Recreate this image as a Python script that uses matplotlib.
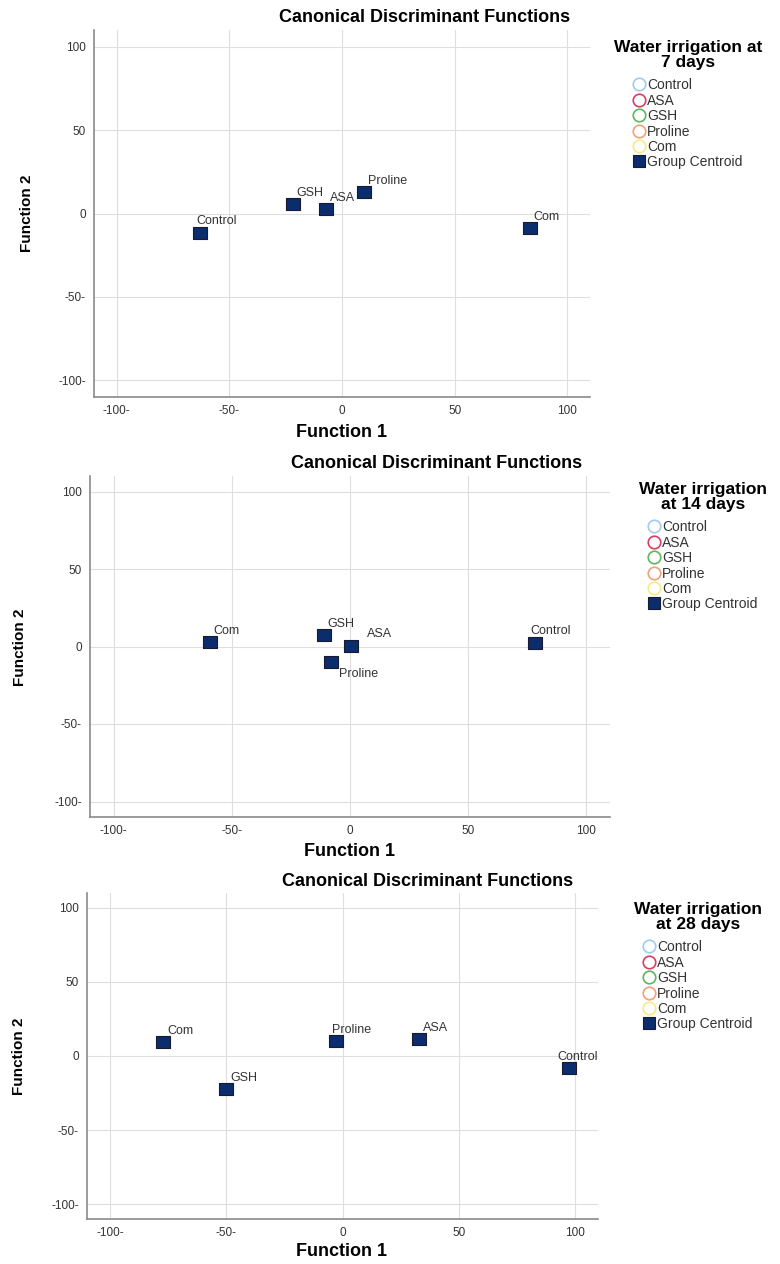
import matplotlib
matplotlib.use('Agg')
import matplotlib.pyplot as plt
from matplotlib.lines import Line2D

plt.rcParams['font.family'] = ['Liberation Sans', 'DejaVu Sans']

# data
groups = ['Control', 'ASA', 'GSH', 'Proline', 'Com']
group_colors = ['#9fcbee', '#dc3c64', '#5cb85c', '#f4a07a', '#f5ec80']

day7_f1 = [-63.0, -7.3, -21.8, 9.6, 83.3]
day7_f2 = [-11.5, 2.8, 5.6, 12.8, -8.7]

day14_f1 = [78.4, 0.4, -11.1, -8.1, -59.4]
day14_f2 = [2.2, 0.6, 7.1, -10.0, 3.0]

day28_f1 = [97.6, 33.0, -50.1, -3.0, -77.3]
day28_f2 = [-7.9, 11.6, -22.4, 10.2, 9.3]

ticks = [-100, -50, 0, 50, 100]
x_ticklabels = ['-100-', '-50-', '0', '50', '100']
y_ticklabels = ['-100-', '-50-', '0', '50', '100']
legend_titles = ['Water irrigation at\n7 days', 'Water irrigation\nat 14 days',
                 'Water irrigation\nat 28 days']

W, H = 780, 1264
centroid_color = '#0b2d6e'
rect = [(-1.25, -1), (1.25, -1), (1.25, 1), (-1.25, 1), (-1.25, -1)]

# layout of each panel in pixels: (left, right, top, bottom), title centre, legend anchor,
# label offsets (px) per group
panels = [
    dict(box=(94, 590, 30, 397), title=(425, 17), xlab=(342, 433), ylab=(27, 213),
         leg=(688, 40), off={'Control': (-4, 12)}),
    dict(box=(90, 610, 476, 817), title=(437, 464), xlab=(350, 851), ylab=(20, 647),
         leg=(703, 482), off={'ASA': (16, 12), 'Proline': (8, -12), 'Control': (-5, 12)}),
    dict(box=(87, 598, 893, 1219), title=(428, 882), xlab=(342, 1252), ylab=(19, 1056),
         leg=(698, 902), off={'Proline': (-4, 11), 'Control': (-12, 11)}),
]
data = [(day7_f1, day7_f2), (day14_f1, day14_f2), (day28_f1, day28_f2)]

fig = plt.figure(figsize=(W / 100, H / 100), dpi=100)

for p, (f1, f2), lt in zip(panels, data, legend_titles):
    l, r, t, b = p['box']
    ax = fig.add_axes([l / W, 1 - b / H, (r - l) / W, (b - t) / H])
    ax.set_xlim(-110, 110)
    ax.set_ylim(-110, 110)
    ax.set_xticks(ticks)
    ax.set_yticks(ticks)
    ax.set_xticklabels(x_ticklabels)
    ax.set_yticklabels(y_ticklabels)
    ax.tick_params(length=0, labelsize=8.5, colors='#333333', pad=6)
    ax.grid(True, color='#dedede', lw=0.8)
    ax.set_axisbelow(True)
    for s in ['top', 'right']:
        ax.spines[s].set_visible(False)
    for s in ['left', 'bottom']:
        ax.spines[s].set_color('#8a8a8a')
        ax.spines[s].set_linewidth(1.2)

    ax.plot(f1, f2, ls='none', marker=rect, ms=10, mfc=centroid_color,
            mec='#1a1a2e', mew=0.8, zorder=3)
    for g, x, y in zip(groups, f1, f2):
        dx, dy = p['off'].get(g, (4, 11))
        ax.annotate(g, (x, y), xytext=(dx * 0.72, dy * 0.72), textcoords='offset points',
                    ha='left', va='center', fontsize=9, color='#333333')

    fig.text(p['title'][0] / W, 1 - p['title'][1] / H, 'Canonical Discriminant Functions',
             ha='center', va='center', fontsize=13, fontweight='bold')
    fig.text(p['xlab'][0] / W, 1 - p['xlab'][1] / H, 'Function 1',
             ha='center', va='center', fontsize=13, fontweight='bold')
    fig.text(p['ylab'][0] / W, 1 - p['ylab'][1] / H, 'Function 2', rotation=90,
             ha='center', va='center', fontsize=11, fontweight='bold')

    handles = [Line2D([], [], ls='none', marker='o', ms=9, mfc='none', mec=c, mew=1.2)
               for c in group_colors]
    handles.append(Line2D([], [], ls='none', marker='s', ms=9, mfc=centroid_color,
                          mec='#1a1a2e', mew=0.8))
    leg = ax.legend(handles, groups + ['Group Centroid'], title=lt,
                    loc='upper center', bbox_to_anchor=(p['leg'][0] / W, 1 - p['leg'][1] / H),
                    bbox_transform=fig.transFigure, frameon=False, fontsize=10,
                    handlelength=0.8, handletextpad=0.2, labelspacing=0.1,
                    borderpad=0, borderaxespad=0)
    leg.get_title().set_fontweight('bold')
    leg.get_title().set_fontsize(12.5)
    leg.get_title().set_multialignment('center')
    leg.get_title().set_linespacing(1.0)
    leg._legend_box.align = 'center'
    leg._legend_box.sep = 6
    for txt in leg.get_texts():
        txt.set_color('#333333')

fig.savefig('out.png', dpi=100)
